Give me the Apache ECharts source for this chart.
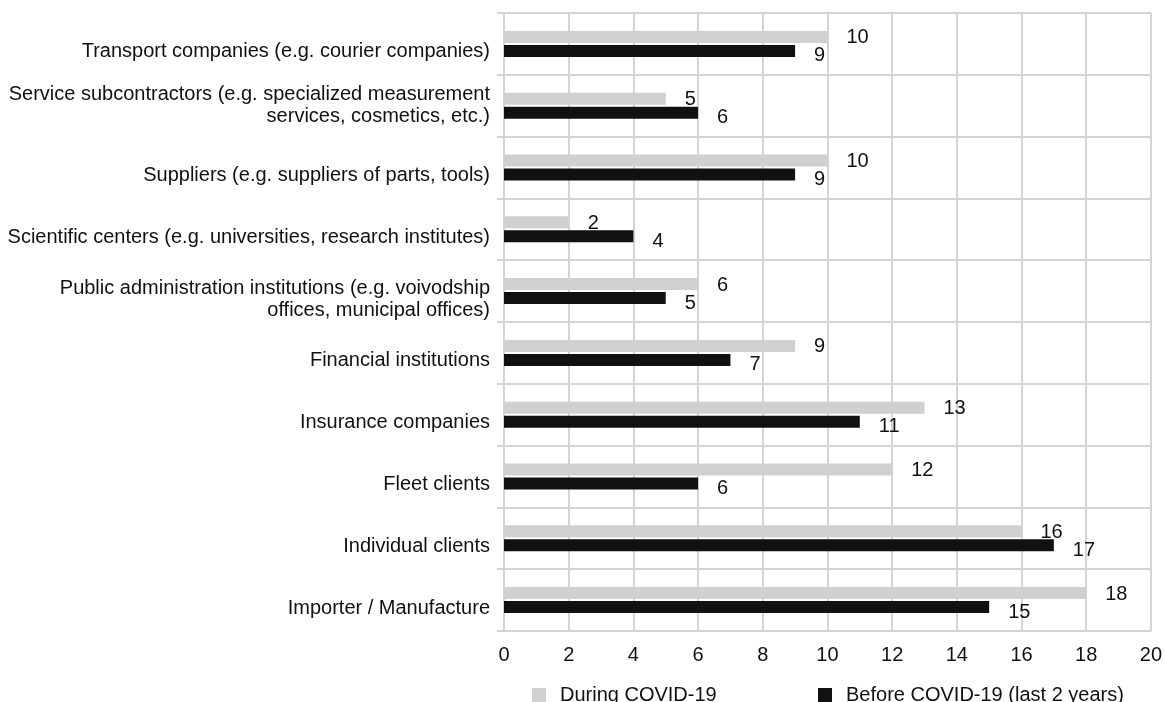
<!DOCTYPE html>
<html>
<head>
<meta charset="utf-8">
<script src="https://cdn.jsdelivr.net/npm/echarts@6/dist/echarts.min.js"></script>
<style>
  html, body { margin: 0; padding: 0; background: #ffffff; }
  #chart { width: 1165px; height: 702px; }
</style>
</head>
<body>
<div id="chart"></div>
<script>
// Partner categories, listed top to bottom
const categories = [
  'Transport companies (e.g. courier companies)',
  'Service subcontractors (e.g. specialized measurement\nservices, cosmetics, etc.)',
  'Suppliers (e.g. suppliers of parts, tools)',
  'Scientific centers (e.g. universities, research institutes)',
  'Public administration institutions (e.g. voivodship\noffices, municipal offices)',
  'Financial institutions',
  'Insurance companies',
  'Fleet clients',
  'Individual clients',
  'Importer / Manufacture'
];

const duringCovid = [10, 5, 10, 2, 6, 9, 13, 12, 16, 18];
const beforeCovid = [9, 6, 9, 4, 5, 7, 11, 6, 17, 15];

const seriesNames = ['During COVID-19', 'Before COVID-19 (last 2 years)'];
const xTicks = { min: 0, max: 20, interval: 2 };

const FONT = 'Liberation Sans, Arial, Helvetica, sans-serif';
const TEXT = '#111111';
const GRID_LINE = '#d4d4d4';

const chart = echarts.init(document.getElementById('chart'), null, { renderer: 'canvas' });

chart.setOption({
  animation: false,
  backgroundColor: '#ffffff',
  textStyle: { fontFamily: FONT, color: TEXT },
  grid: { left: 504, right: 12, top: 13, bottom: 71, containLabel: false },
  legend: [
    {
      data: [seriesNames[0]],
      left: 527, top: 680,
      itemWidth: 14, itemHeight: 14,
      icon: 'rect',
      selectedMode: false,
      textStyle: { fontFamily: FONT, fontSize: 20, color: TEXT, padding: [0, 0, 0, 9] }
    },
    {
      data: [seriesNames[1]],
      left: 813, top: 680,
      itemWidth: 14, itemHeight: 14,
      icon: 'rect',
      selectedMode: false,
      textStyle: { fontFamily: FONT, fontSize: 20, color: TEXT, padding: [0, 0, 0, 9] }
    }
  ],
  xAxis: {
    type: 'value',
    min: xTicks.min, max: xTicks.max, interval: xTicks.interval,
    axisLine: { show: true, lineStyle: { color: GRID_LINE, width: 2 } },
    axisTick: { show: false },
    splitLine: { show: true, lineStyle: { color: GRID_LINE, width: 2 } },
    axisLabel: { fontFamily: FONT, fontSize: 20, color: TEXT, margin: 14 }
  },
  yAxis: {
    type: 'category',
    inverse: true,
    data: categories,
    axisLine: { show: true, lineStyle: { color: GRID_LINE, width: 2 } },
    axisTick: { show: true, length: 7, lineStyle: { color: GRID_LINE, width: 2 } },
    splitLine: { show: true, lineStyle: { color: GRID_LINE, width: 2 } },
    axisLabel: {
      fontFamily: FONT, fontSize: 20, color: TEXT, margin: 14,
      lineHeight: 22, align: 'right',
      // a thin spacer line above most labels sits the text a little below the band centre;
      // the service-subcontractor label stays centred
      formatter: (v, i) => (i === 1 ? v : '{sp| }\n' + v),
      rich: { sp: { fontSize: 2, lineHeight: 16 } }
    }
  },
  series: [
    {
      name: seriesNames[0],
      type: 'bar',
      data: duringCovid,
      barWidth: 12,
      barGap: '17%',
      itemStyle: { color: '#d0d0d0' },
      label: {
        show: true, position: 'right', distance: 19, offset: [0, 1],
        fontFamily: FONT, fontSize: 20, color: TEXT
      }
    },
    {
      name: seriesNames[1],
      type: 'bar',
      data: beforeCovid,
      barWidth: 12,
      barGap: '17%',
      itemStyle: { color: '#111111' },
      label: {
        show: true, position: 'right', distance: 19, offset: [0, 5],
        fontFamily: FONT, fontSize: 20, color: TEXT
      }
    }
  ]
});
</script>
</body>
</html>
